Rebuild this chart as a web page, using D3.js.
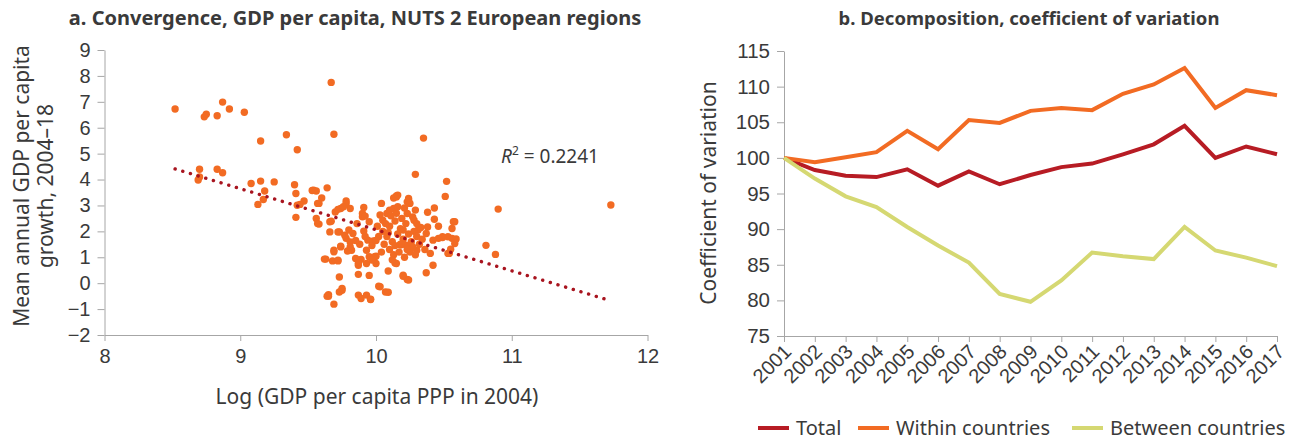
<!DOCTYPE html>
<html>
<head>
<meta charset="utf-8">
<script src="https://cdn.jsdelivr.net/npm/d3@7"></script>
<style>
  body { margin: 0; background: #fff; }
  svg { font-family: "Noto Sans", "Open Sans", sans-serif; }
  .axis path, .axis line { stroke: #a6a6a6; }
  .axis text { fill: #3a3a3a; }
</style>
</head>
<body>
<svg id="chart" width="1299" height="441"></svg>
<script>
// Panel a: regions, [log GDP per capita 2004, mean growth 2004-18]
const regions = [
  [8.52,6.72],[8.87,6.99],[8.735,6.42],[8.75,6.52],[8.83,6.46],[8.92,6.72],[9.03,6.60],[9.67,7.75],
  [9.15,5.49],[9.34,5.73],[9.69,5.75],[9.42,5.15],[10.35,5.60],[10.29,4.20],
  [8.70,4.40],[8.69,3.98],[8.70,4.10],[8.83,4.40],[8.87,4.26],[9.08,3.85],[9.15,3.94],[9.25,3.91],
  [9.18,3.56],[9.40,3.80],[9.41,3.46],[9.53,3.58],[9.56,3.56],[9.64,3.68],[9.60,3.29],[9.47,3.17],
  [9.78,3.17],[10.15,3.37],[10.13,3.29],[10.24,3.27],
  [9.13,3.04],[9.17,3.23],[9.41,2.54],[9.42,3.01],[9.44,3.04],[9.57,3.08],[9.56,2.50],[9.57,2.30],
  [9.66,2.37],[9.66,1.98],[9.73,1.98],[9.70,2.75],[9.74,2.88],[9.78,3.08],[9.81,2.88],[9.63,0.93],
  [9.69,1.27],[9.69,1.21],[9.68,0.86],[9.72,0.86],[9.73,0.24],[9.74,1.43],[9.75,-0.27],[9.73,-0.34],
  [9.65,-0.44],[9.65,-0.50],[9.69,-0.81],[9.78,1.73],[9.81,1.59],[9.82,1.27],[9.79,1.24],[9.87,0.89],
  [9.89,0.92],[9.87,0.69],[9.87,0.34],[9.87,-0.46],[9.89,-0.59],[9.93,-0.46],[9.96,-0.62],[9.95,0.30],
  [10.02,-0.12],[10.07,-0.34],[10.09,0.47],[10.14,0.78],[10.20,0.27],[10.23,0.14],[9.93,1.27],[9.95,1.02],
  [9.98,0.95],[10.00,1.04],[9.93,0.76],[9.86,2.30],[9.90,2.56],[9.91,2.92],[9.95,2.37],[9.91,2.01],
  [9.94,1.66],[9.98,1.63],[9.83,1.92],[9.77,1.85],[9.80,2.05],
  [10.52,3.93],[10.51,3.35],[10.90,2.86],[11.73,3.02],[10.58,2.37],[10.56,2.11],[10.49,1.79],[10.56,1.73],
  [10.59,1.71],[10.58,1.53],[10.81,1.46],[10.88,1.11],[10.54,1.15],[10.55,1.31],
  [9.54,3.59],[9.58,3.08],[9.58,2.28],[9.67,2.39],[9.72,2.85],[9.76,2.95],[9.90,2.69],[9.92,2.59],
  [10.04,3.08],[10.03,2.63],[10.05,2.43],[10.08,2.69],[10.10,2.82],[10.13,2.88],[10.15,3.33],[10.16,3.40],
  [10.23,3.14],[10.24,3.20],[10.25,3.08],[10.29,2.82],[10.23,2.69],[10.27,2.56],[10.28,2.43],[10.38,2.74],
  [10.43,2.90],[10.43,2.47],[10.46,2.20],[10.38,2.17],[10.37,1.92],[10.31,2.05],[10.33,2.15],[10.57,2.37],
  [10.53,1.79],[10.49,1.76],[10.46,1.73],[10.42,1.66],[10.53,1.15],[10.40,1.15],[10.42,0.69],[10.37,0.40],
  [10.30,1.27],[10.26,1.40],[10.22,1.47],[10.18,1.47],[10.20,0.31],[10.24,0.12],[10.15,0.76],[10.03,-0.14],
  [10.09,-0.35],[9.96,-0.63],[9.85,0.95],[9.87,0.76],[9.99,1.02],[10.00,0.76],[9.97,0.89],[9.75,-0.20],
  [9.64,-0.50],[9.62,0.93],[9.72,0.89],[9.74,1.40],[9.72,1.98],[9.81,1.40],
  [10.05,2.00],[10.08,1.80],[10.10,2.20],[10.12,1.60],[10.14,2.40],[10.16,1.90],[10.18,2.10],[10.20,1.70],
  [10.22,2.30],[10.24,1.90],[10.26,1.60],[10.28,2.00],[10.30,1.80],[10.32,1.50],[10.10,1.30],[10.13,1.10],
  [10.17,1.20],[10.21,1.00],[10.25,1.20],[10.06,1.50],[10.02,1.80],[10.04,1.20],[10.11,2.60],[10.19,2.50],
  [10.15,2.70],[10.21,2.90],[10.27,1.40],[10.34,1.70],[10.36,1.30],[10.12,0.90],[10.07,2.30],[10.18,1.50],
  [10.23,1.30],[10.29,1.10],[10.09,1.95],[10.14,1.45],[10.20,2.05],[10.30,2.30],[10.16,2.95],[10.01,2.20],
  [9.88,1.50],[9.92,1.80],[9.97,1.45],[10.00,1.65],[9.85,1.65]
];
// linear trend at its two ends
const trendX = [8.52, 11.73];
const trendY = [4.41, -0.68];
const rSquared = "0.2241";
const xTicksA = [8, 9, 10, 11, 12];
const yTicksA = [-2, -1, 0, 1, 2, 3, 4, 5, 6, 7, 8, 9];

// Panel b: coefficient of variation, 2001 = 100
const years = [2001,2002,2003,2004,2005,2006,2007,2008,2009,2010,2011,2012,2013,2014,2015,2016,2017];
const total = [100,98.3,97.5,97.3,98.4,96.1,98.1,96.3,97.6,98.7,99.2,100.5,101.9,104.5,100.0,101.6,100.5];
const within = [100,99.4,100.1,100.8,103.8,101.2,105.3,104.9,106.6,107.0,106.7,109.0,110.3,112.6,107.0,109.5,108.8];
const between = [100,97.1,94.6,93.1,90.3,87.7,85.3,80.9,79.8,82.8,86.7,86.2,85.8,90.3,87.0,86.0,84.8];
const seriesNames = ["Total", "Within countries", "Between countries"];
const seriesColors = ["#b71c24", "#f26b23", "#d5d872"];
const yTicksB = [75, 80, 85, 90, 95, 100, 105, 110, 115];

const svg = d3.select('#chart');
const textColor = '#3a3a3a';

// ---------- panel a ----------
const xA = d3.scaleLinear().domain([8, 12]).range([104.5, 647.5]);
const yA = d3.scaleLinear().domain([-2, 9]).range([335, 50]);

svg.append('text')
  .attr('x', 355).attr('y', 25)
  .attr('text-anchor', 'middle')
  .attr('font-size', 20).attr('font-weight', 'bold')
  .attr('fill', textColor)
  .text('a. Convergence, GDP per capita, NUTS 2 European regions');

const yAxisA = svg.append('g').attr('class', 'axis')
  .attr('transform', 'translate(' + xA.range()[0] + ',0)')
  .call(d3.axisLeft(yA).tickValues(yTicksA).tickSize(7).tickSizeOuter(0).tickPadding(7));
yAxisA.selectAll('text').attr('font-size', 20);

const xAxisA = svg.append('g').attr('class', 'axis')
  .attr('transform', 'translate(0,' + yA.range()[0] + ')')
  .call(d3.axisBottom(xA).tickValues(xTicksA).tickFormat(d3.format('d'))
    .tickSize(6).tickSizeOuter(0).tickPadding(8));
xAxisA.selectAll('text').attr('font-size', 20);

svg.append('text')
  .attr('transform', 'translate(0,186) rotate(-90)')
  .attr('text-anchor', 'middle')
  .attr('font-size', 21).attr('fill', textColor)
  .selectAll('tspan')
  .data(['Mean annual GDP per capita', 'growth, 2004\u201318'])
  .enter().append('tspan')
  .attr('x', 0)
  .attr('y', (d, i) => 29 + i * 24)
  .text(d => d);

svg.append('text')
  .attr('x', 377).attr('y', 404)
  .attr('text-anchor', 'middle')
  .attr('font-size', 21).attr('fill', textColor)
  .text('Log (GDP per capita PPP in 2004)');

svg.append('g')
  .selectAll('circle')
  .data(regions)
  .enter().append('circle')
  .attr('cx', d => xA(d[0]))
  .attr('cy', d => yA(d[1]))
  .attr('r', 3.7)
  .attr('fill', '#f26b23');

svg.append('path')
  .datum(trendX.map((x, i) => [x, trendY[i]]))
  .attr('d', d3.line().x(d => xA(d[0])).y(d => yA(d[1])))
  .attr('fill', 'none')
  .attr('stroke', '#a8141f')
  .attr('stroke-width', 3.4)
  .attr('stroke-linecap', 'round')
  .attr('stroke-dasharray', '0.1 7.9');

const r2 = svg.append('text')
  .attr('x', 501).attr('y', 163)
  .attr('font-size', 19).attr('fill', textColor);
r2.append('tspan').attr('font-style', 'italic').text('R');
r2.append('tspan').attr('font-size', 12).attr('dy', -8).text('2');
r2.append('tspan').attr('dy', 8).text(' = ' + rSquared);

// ---------- panel b ----------
const xB = d3.scaleLinear().domain([2001, 2017]).range([784, 1277]);
const yB = d3.scaleLinear().domain([75, 115]).range([336, 51]);

svg.append('text')
  .attr('x', 1029).attr('y', 25)
  .attr('text-anchor', 'middle')
  .attr('font-size', 18.5).attr('font-weight', 'bold')
  .attr('fill', textColor)
  .text('b. Decomposition, coefficient of variation');

const yAxisB = svg.append('g').attr('class', 'axis')
  .attr('transform', 'translate(' + xB.range()[0] + ',0)')
  .call(d3.axisLeft(yB).tickValues(yTicksB).tickSize(7).tickSizeOuter(0).tickPadding(7));
yAxisB.selectAll('text').attr('font-size', 20.5);

const xAxisB = svg.append('g').attr('class', 'axis')
  .attr('transform', 'translate(0,' + yB.range()[0] + ')')
  .call(d3.axisBottom(xB).tickValues(years).tickFormat(d3.format('d')).tickSize(6).tickSizeOuter(0));
xAxisB.selectAll('text')
  .attr('text-anchor', 'end')
  .attr('dx', 0).attr('dy', 0)
  .attr('y', 0).attr('x', 0)
  .attr('transform', 'translate(8,17) rotate(-45)')
  .attr('font-size', 20);

svg.append('text')
  .attr('transform', 'translate(716,193) rotate(-90)')
  .attr('text-anchor', 'middle')
  .attr('font-size', 21).attr('fill', textColor)
  .text('Coefficient of variation');

const seriesData = [total, within, between];
const lineB = d3.line().x((d, i) => xB(years[i])).y(d => yB(d));
svg.append('g')
  .selectAll('path')
  .data(seriesData)
  .enter().append('path')
  .attr('d', d => lineB(d))
  .attr('fill', 'none')
  .attr('stroke', (d, i) => seriesColors[i])
  .attr('stroke-width', 4)
  .attr('stroke-linejoin', 'miter');

// legend
const legendX = [758, 858, 1072];
const legend = svg.append('g');
seriesNames.forEach((name, i) => {
  legend.append('line')
    .attr('x1', legendX[i]).attr('x2', legendX[i] + 31)
    .attr('y1', 428).attr('y2', 428)
    .attr('stroke', seriesColors[i]).attr('stroke-width', 4);
  legend.append('text')
    .attr('x', legendX[i] + 38).attr('y', 435)
    .attr('font-size', 20).attr('fill', textColor)
    .text(name);
});
</script>
</body>
</html>
